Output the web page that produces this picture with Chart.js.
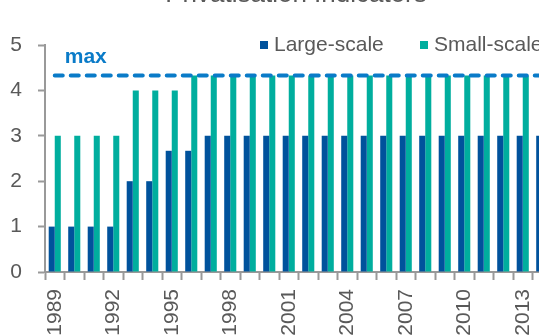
<!DOCTYPE html>
<html>
<head>
<meta charset="utf-8">
<script src="https://cdn.jsdelivr.net/npm/chart.js@4/dist/chart.umd.min.js"></script>
<style>
  body { margin: 0; background: #fff; }
  #marco { width: 539px; height: 336px; overflow: hidden; position: relative; }
  #grafico { position: absolute; left: 0; top: 0; }
</style>
</head>
<body>
<div id="marco">
  <canvas id="grafico" width="592" height="360"></canvas>
</div>
<script>
// Años del eje x
const anios = ["1989", "1990", "1991", "1992", "1993", "1994", "1995", "1996", "1997",
  "1998", "1999", "2000", "2001", "2002", "2003", "2004", "2005", "2006", "2007",
  "2008", "2009", "2010", "2011", "2012", "2013", "2014"];

// Indicador de privatización a gran escala
const granEscala = [1, 1, 1, 1, 2, 2, 2.67, 2.67, 3, 3, 3, 3, 3, 3, 3, 3, 3, 3, 3,
  3, 3, 3, 3, 3, 3, 3];

// Indicador de privatización a pequeña escala
const pequenaEscala = [3, 3, 3, 3, 4, 4, 4, 4.33, 4.33, 4.33, 4.33, 4.33, 4.33, 4.33,
  4.33, 4.33, 4.33, 4.33, 4.33, 4.33, 4.33, 4.33, 4.33, 4.33, 4.33, 4.33];

// Valor máximo posible del indicador
const maximo = [4.33, 4.33, 4.33, 4.33, 4.33, 4.33, 4.33, 4.33, 4.33, 4.33, 4.33, 4.33,
  4.33, 4.33, 4.33, 4.33, 4.33, 4.33, 4.33, 4.33, 4.33, 4.33, 4.33, 4.33, 4.33, 4.33];

const nombresSeries = ["Large-scale", "Small-scale"];
const titulo = "Privatisation Indicators";

const gris = "#595959";
const fuente = "'Liberation Sans', Arial, sans-serif";

// Título, leyenda y etiqueta "max" dibujados a mano
const extras = {
  id: "extras",
  afterDraw(chart) {
    const ctx = chart.ctx;
    ctx.save();

    // Título (queda casi fuera del recuadro)
    ctx.fillStyle = gris;
    ctx.font = "26px " + fuente;
    ctx.textAlign = "center";
    ctx.textBaseline = "alphabetic";
    ctx.fillText(titulo, 296, 2);

    // Leyenda (sólo las barras)
    const posiciones = [260, 420];
    ctx.font = "21px " + fuente;
    ctx.textAlign = "left";
    for (let i = 0; i < 2; i++) {
      const ds = chart.data.datasets[i + 1];
      ctx.fillStyle = ds.backgroundColor;
      ctx.fillRect(posiciones[i], 41, 8, 8);
      ctx.fillStyle = gris;
      ctx.fillText(ds.label, posiciones[i] + 14, 51);
    }

    // Etiqueta de la línea de máximo
    const x = chart.scales.x.getPixelForValue(0) + 10;
    const y = chart.scales.y.getPixelForValue(maximo[0]) - 12;
    ctx.fillStyle = "#0a7bc8";
    ctx.font = "bold 21px " + fuente;
    ctx.fillText("max", x, y);

    ctx.restore();
  }
};

const ctx = document.getElementById("grafico").getContext("2d");
const chart = new Chart(ctx, {
  type: "bar",
  data: {
    labels: anios,
    datasets: [
      {
        type: "line",
        label: "max",
        data: maximo,
        borderColor: "#0a7bc8",
        borderWidth: 4,
        borderDash: [8, 8],
        borderCapStyle: "round",
        pointRadius: 0,
        fill: false,
        order: 0
      },
      {
        label: nombresSeries[0],
        data: granEscala,
        backgroundColor: "#00529c",
        categoryPercentage: 0.62,
        barPercentage: 1,
        order: 1
      },
      {
        label: nombresSeries[1],
        data: pequenaEscala,
        backgroundColor: "#00ae9e",
        categoryPercentage: 0.62,
        barPercentage: 1,
        order: 1
      }
    ]
  },
  options: {
    responsive: false,
    animation: false,
    layout: {
      padding: { top: 45, left: 0, right: 40, bottom: 24 }
    },
    plugins: {
      legend: { display: false },
      title: { display: false },
      tooltip: { enabled: false }
    },
    scales: {
      x: {
        offset: true,
        afterFit(escala) { escala.height = 64; },
        grid: {
          offset: true,
          drawOnChartArea: false,
          tickLength: 8,
          tickWidth: 2,
          tickColor: "#999"
        },
        border: { color: "#999", width: 2 },
        ticks: {
          autoSkip: false,
          minRotation: 90,
          maxRotation: 90,
          padding: 9,
          color: gris,
          font: { family: fuente, size: 21 },
          // Sólo cada tres años
          callback(valor, indice) {
            return indice % 3 === 0 ? anios[indice] : "";
          }
        }
      },
      y: {
        min: 0,
        max: 5,
        afterFit(escala) { escala.width = 45; },
        grid: {
          drawOnChartArea: false,
          tickLength: 7,
          tickWidth: 2,
          tickColor: "#999"
        },
        border: { color: "#999", width: 2 },
        ticks: {
          stepSize: 1,
          padding: 16,
          color: gris,
          font: { family: fuente, size: 21 }
        }
      }
    }
  },
  plugins: [extras]
});

chart.render();
</script>
</body>
</html>
